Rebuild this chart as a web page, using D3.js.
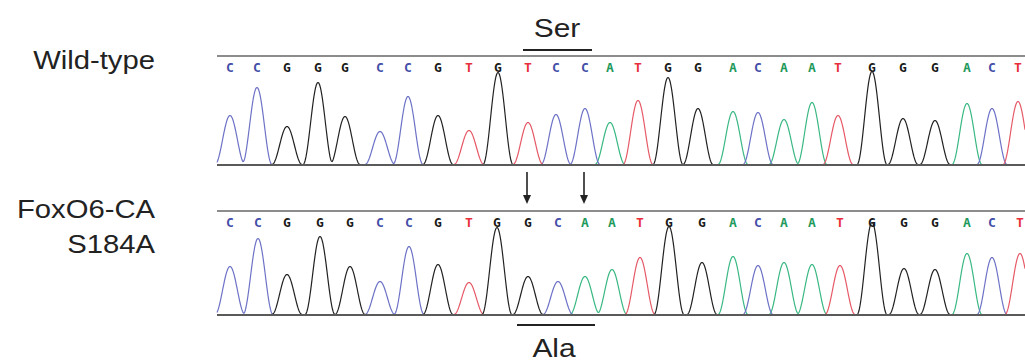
<!DOCTYPE html>
<html><head><meta charset="utf-8">
<script src="https://cdn.jsdelivr.net/npm/d3@7"></script>
<style>html,body{margin:0;padding:0;background:#fff;}svg{display:block;}</style>
</head><body>
<svg id="chart" width="1025" height="364"></svg>
<script>
// ---- DATA ----
const wtBases  = "CCGGGCCGTGTCCATGGACAATGGGACT".split("");
const mutBases = "CCGGGCCGTGGCAATGGACAATGGGACT".split("");
// peak positions (scan numbers)
const wtScans  = [3013,3040,3070,3101,3128,3163,3191,3221,3252,3281,3311,3339,3368,3393,3421,3451,3481,3516,3541,3567,3595,3621,3655,3686,3718,3750,3775,3801];
const mutScans = [3013,3041,3070,3103,3133,3163,3192,3221,3252,3280,3311,3341,3368,3395,3423,3452,3485,3516,3541,3567,3595,3623,3655,3687,3718,3750,3775,3803];
// peak intensities
const wtHeights  = [49,77,38,82,48,33,68,49,34,92,42,50,56,42,64,87,56,53,52,45,62,49,93,46,44,61,56,63];
const mutHeights = [48,76,40,78,48,33,68,50,32,87,38,33,38,45,57,88,52,58,49,52,50,49,92,46,45,61,57,61];
const sampleLabels = [["Wild-type"], ["FoxO6-CA", "S184A"]];
const codonLabels = ["Ser", "Ala"];
const codonRange = [10, 12];      // codon bases (index)
const mutatedIdx = [10, 12];      // arrows

// ---- LAYOUT ----
const svg = d3.select("#chart");
const font = "Liberation Sans, Arial, sans-serif";
const x = d3.scaleLinear().domain([3000, 3808]).range([217, 1025]);
const baseColor  = {A:"#1f9a5c", C:"#434fa8", G:"#1a1a1a", T:"#e8303c"};
const traceColor = {A:"#3ab883", C:"#6d72c6", G:"#222222", T:"#e65a68"};
const halfW = 15; // peak half-width at base, scan units

function peakShape(dist) {
  const a = Math.abs(dist);
  if (a >= halfW) return 0;
  const c = Math.cos(Math.PI * a / (2 * halfW));
  return c * c;
}

function stretchedText(sel, cx, sx) {
  return sel.attr("transform", `translate(${cx},0) scale(${sx},1) translate(${-cx},0)`);
}

const panels = [
  {bases: wtBases, scans: wtScans, heights: wtHeights, base: 165, top: 56, labelY: [69]},
  {bases: mutBases, scans: mutScans, heights: mutHeights, base: 315, top: 211, labelY: [218, 253]}
];

panels.forEach((p, pi) => {
  const g = svg.append("g");
  const y = d3.scaleLinear().domain([0, p.base - p.top]).range([p.base, p.top]);
  // top line
  g.append("line").attr("x1", x.range()[0]).attr("x2", x.range()[1])
    .attr("y1", p.top).attr("y2", p.top).attr("stroke", "#8c8c8c").attr("stroke-width", 2.2);
  // traces
  const scanGrid = d3.range(x.domain()[0], x.domain()[1] + 0.5, 0.5);
  ["A","C","T","G"].forEach(ch => {
    const peaks = p.bases.map((b, i) => ({b, s: p.scans[i], h: p.heights[i]})).filter(d => d.b === ch);
    const pts = scanGrid.map(s => [s, d3.sum(peaks, d => d.h * peakShape(s - d.s))]);
    const line = d3.line().x(d => x(d[0])).y(d => y(d[1]) - 0.5).curve(d3.curveLinear);
    g.append("path").attr("d", line(pts)).attr("fill", "none")
      .attr("stroke", traceColor[ch]).attr("stroke-width", 1.2).attr("stroke-linejoin", "round");
  });
  // baseline
  g.append("line").attr("x1", x.range()[0]).attr("x2", x.range()[1])
    .attr("y1", p.base).attr("y2", p.base).attr("stroke", "#5a5a5a").attr("stroke-width", 2);
  // base letters
  g.selectAll("text.base").data(p.bases).enter().append("text")
    .attr("class", "base")
    .attr("x", (d, i) => x(p.scans[i])).attr("y", p.top + 16)
    .attr("text-anchor", "middle")
    .attr("font-family", "DejaVu Sans Mono, monospace").attr("font-weight", "bold")
    .attr("font-size", 13).attr("fill", d => baseColor[d]).text(d => d);
  // sample label
  sampleLabels[pi].forEach((t, k) => {
    stretchedText(g.append("text").attr("x", 155).attr("y", p.labelY[k]).attr("text-anchor", "end")
      .attr("font-family", font).attr("font-size", 25).attr("fill", "#222").text(t), 155, 1.17);
  });
});

// codon annotations
const ser = svg.append("g");
ser.append("line").attr("x1", x(wtScans[codonRange[0]]) - 5).attr("x2", x(wtScans[codonRange[1]]) + 7)
  .attr("y1", 50).attr("y2", 50).attr("stroke", "#222").attr("stroke-width", 2);
const sx = x(wtScans[codonRange[0] + 1]) + 1;
stretchedText(ser.append("text").attr("x", sx).attr("y", 37).attr("text-anchor", "middle")
  .attr("font-family", font).attr("font-size", 26).attr("fill", "#222").text(codonLabels[0]), sx, 1.15);
const ala = svg.append("g");
ala.append("line").attr("x1", x(mutScans[codonRange[0]]) - 11).attr("x2", x(mutScans[codonRange[1]]) + 10)
  .attr("y1", 325).attr("y2", 325).attr("stroke", "#222").attr("stroke-width", 2);
const ax = x(mutScans[codonRange[0] + 1]) - 4;
stretchedText(ala.append("text").attr("x", ax).attr("y", 357).attr("text-anchor", "middle")
  .attr("font-family", font).attr("font-size", 26).attr("fill", "#222").text(codonLabels[1]), ax, 1.15);

// arrows
mutatedIdx.forEach(i => {
  const xx = x(mutScans[i]) - 1;
  svg.append("line").attr("x1", xx).attr("x2", xx).attr("y1", 172).attr("y2", 197)
    .attr("stroke", "#222").attr("stroke-width", 1.6);
  svg.append("path").attr("d", `M${xx-4},195 L${xx+4},195 L${xx},204 Z`).attr("fill", "#222");
});
</script>
</body></html>
